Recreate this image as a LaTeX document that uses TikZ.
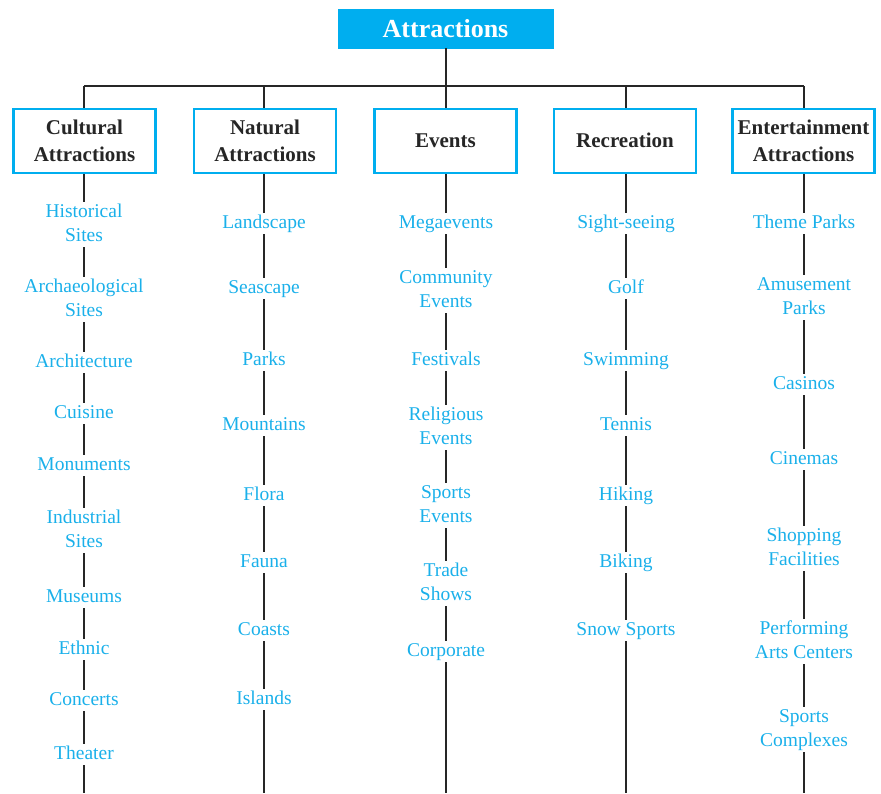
\documentclass[tikz,border=0pt]{standalone}
\usepackage{fontspec}
\setmainfont{Liberation Serif}
\definecolor{acyan}{HTML}{00AEEF}
\definecolor{tcyan}{HTML}{1AB0EA}
\begin{document}
\begin{tikzpicture}[x=1pt,y=-1pt,
  titlebox/.style={fill=acyan,draw=acyan,text=white,minimum width=215pt,minimum height=39pt,inner sep=0pt,font=\fontsize{26}{30}\selectfont\bfseries},
  catbox/.style={draw=acyan,line width=2.8pt,fill=white,minimum width=142pt,minimum height=64pt,inner sep=0pt,align=center,text=black!85,font=\fontsize{21}{27}\selectfont\bfseries},
  leaf/.style={text=tcyan,align=center,inner sep=2pt,text height=13pt,text depth=4pt,yshift=-2.5pt,font=\fontsize{19.5}{24}\selectfont},
  leaftwo/.style={leaf,text height=37pt},
  link/.style={draw=black!85,line width=1.2pt}]
\useasboundingbox (0,0) rectangle (881,793);
\node[titlebox] (title) at (445.5,28.5) {Attractions};
\node[catbox] (b1) at (84.5,141) {Cultural\\Attractions};
\node[catbox] (b2) at (265,141) {Natural\\Attractions};
\node[catbox] (b3) at (445.5,141) {\raisebox{1.5pt}{Events}};
\node[catbox] (b4) at (625,141) {\raisebox{1.5pt}{Recreation}};
\node[catbox] (b5) at (803.5,141) {Entertainment\\Attractions};
\foreach \i/\x in {1/84,2/264,3/446,4/626,5/804}{
  \coordinate (h\i) at (\x,86);
  \coordinate (e\i) at (\x,793);
}
\draw[link] (h3 |- title.south) -- (h3);
\draw[link] (h1) -- (h5);
\foreach \i in {1,2,3,4,5}{\draw[link] (h\i) -- (h\i |- b\i.north);}
% column 1
\node[leaftwo] (c1a) at (84,222) {Historical\\Sites};
\node[leaftwo] (c1b) at (84,297) {Archaeological\\Sites};
\node[leaf] (c1c) at (84,360) {Architecture};
\node[leaf] (c1d) at (84,411) {Cuisine};
\node[leaf] (c1e) at (84,463) {Monuments};
\node[leaftwo] (c1f) at (84,528) {Industrial\\Sites};
\node[leaf] (c1g) at (84,595) {Museums};
\node[leaf] (c1h) at (84,647) {Ethnic};
\node[leaf] (c1i) at (84,698) {Concerts};
\node[leaf] (c1j) at (84,752) {Theater};
\draw[link] (c1a.north |- b1.south) -- (c1a.north) (c1a.south) -- (c1b.north) (c1b.south) -- (c1c.north)
  (c1c.south) -- (c1d.north) (c1d.south) -- (c1e.north) (c1e.south) -- (c1f.north)
  (c1f.south) -- (c1g.north) (c1g.south) -- (c1h.north) (c1h.south) -- (c1i.north)
  (c1i.south) -- (c1j.north) (c1j.south) -- (e1);
% column 2
\node[leaf] (c2a) at (264,221) {Landscape};
\node[leaf] (c2b) at (264,286) {Seascape};
\node[leaf] (c2c) at (264,358) {Parks};
\node[leaf] (c2d) at (264,423) {Mountains};
\node[leaf] (c2e) at (264,493) {Flora};
\node[leaf] (c2f) at (264,560) {Fauna};
\node[leaf] (c2g) at (264,628) {Coasts};
\node[leaf] (c2h) at (264,697) {Islands};
\draw[link] (c2a.north |- b2.south) -- (c2a.north) (c2a.south) -- (c2b.north) (c2b.south) -- (c2c.north)
  (c2c.south) -- (c2d.north) (c2d.south) -- (c2e.north) (c2e.south) -- (c2f.north)
  (c2f.south) -- (c2g.north) (c2g.south) -- (c2h.north) (c2h.south) -- (e2);
% column 3
\node[leaf] (c3a) at (446,221) {Megaevents};
\node[leaftwo] (c3b) at (446,288) {Community\\Events};
\node[leaf] (c3c) at (446,358) {Festivals};
\node[leaftwo] (c3d) at (446,425) {Religious\\Events};
\node[leaftwo] (c3e) at (446,503) {Sports\\Events};
\node[leaftwo] (c3f) at (446,581) {Trade\\Shows};
\node[leaf] (c3g) at (446,649) {Corporate};
\draw[link] (c3a.north |- b3.south) -- (c3a.north) (c3a.south) -- (c3b.north) (c3b.south) -- (c3c.north)
  (c3c.south) -- (c3d.north) (c3d.south) -- (c3e.north) (c3e.south) -- (c3f.north)
  (c3f.south) -- (c3g.north) (c3g.south) -- (e3);
% column 4
\node[leaf] (c4a) at (626,221) {Sight-seeing};
\node[leaf] (c4b) at (626,286) {Golf};
\node[leaf] (c4c) at (626,358) {Swimming};
\node[leaf] (c4d) at (626,423) {Tennis};
\node[leaf] (c4e) at (626,493) {Hiking};
\node[leaf] (c4f) at (626,560) {Biking};
\node[leaf] (c4g) at (626,628) {Snow Sports};
\draw[link] (c4a.north |- b4.south) -- (c4a.north) (c4a.south) -- (c4b.north) (c4b.south) -- (c4c.north)
  (c4c.south) -- (c4d.north) (c4d.south) -- (c4e.north) (c4e.south) -- (c4f.north)
  (c4f.south) -- (c4g.north) (c4g.south) -- (e4);
% column 5
\node[leaf] (c5a) at (804,221) {Theme Parks};
\node[leaftwo] (c5b) at (804,295) {Amusement\\Parks};
\node[leaf] (c5c) at (804,382) {Casinos};
\node[leaf] (c5d) at (804,457) {Cinemas};
\node[leaftwo] (c5e) at (804,546) {Shopping\\Facilities};
\node[leaftwo] (c5f) at (804,639) {Performing\\Arts Centers};
\node[leaftwo] (c5g) at (804,727) {Sports\\Complexes};
\draw[link] (c5a.north |- b5.south) -- (c5a.north) (c5a.south) -- (c5b.north) (c5b.south) -- (c5c.north)
  (c5c.south) -- (c5d.north) (c5d.south) -- (c5e.north) (c5e.south) -- (c5f.north)
  (c5f.south) -- (c5g.north) (c5g.south) -- (e5);
\end{tikzpicture}
\end{document}
